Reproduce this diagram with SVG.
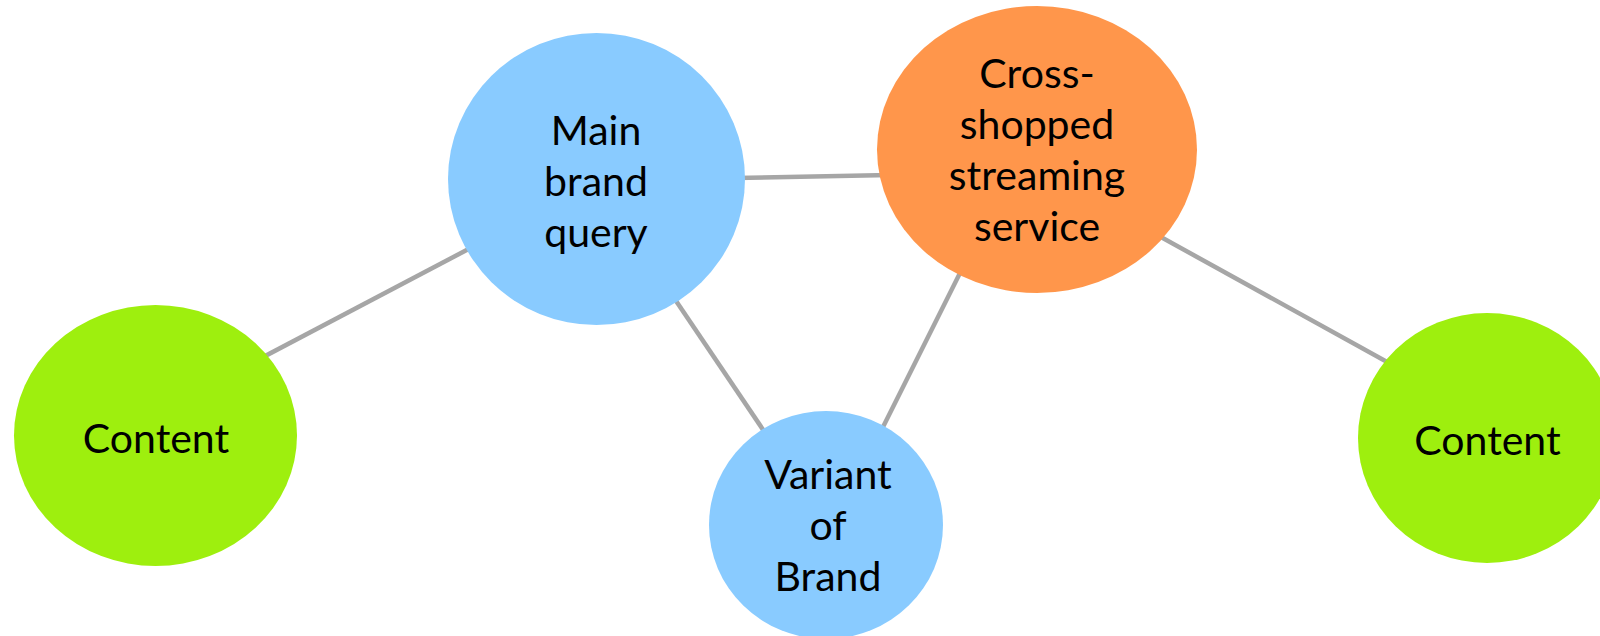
<svg xmlns="http://www.w3.org/2000/svg" width="1600" height="636" viewBox="0 0 1600 636">
<style>
.edge{stroke:#A6A6A6;stroke-width:4.5;fill:none}
.blue{fill:#89CBFF}
.orange{fill:#FF964B}
.green{fill:#9EEF0E}
.lbl{font-family:Lato,"Open Sans","Liberation Sans",sans-serif;font-size:41px;fill:#000;text-anchor:middle}
</style>
<rect width="1600" height="636" fill="#FFFFFF"/>
<g id="connectors">
<line class="edge" x1="250" y1="364" x2="480" y2="243"/>
<line class="edge" x1="735" y1="178" x2="890" y2="175"/>
<line class="edge" x1="670" y1="292" x2="770" y2="440"/>
<line class="edge" x1="966" y1="261" x2="878" y2="437"/>
<line class="edge" x1="1150" y1="231" x2="1398" y2="368"/>
</g>
<g id="node-content-left">
<ellipse class="green" cx="155.5" cy="435.5" rx="141.5" ry="130.5"/>
<text class="lbl" x="156" y="453">Content</text>
</g>
<g id="node-main-brand">
<ellipse class="blue" cx="596.5" cy="179" rx="148.5" ry="146"/>
<text class="lbl" x="596" y="145">Main</text>
<text class="lbl" x="596" y="196">brand</text>
<text class="lbl" x="596" y="247">query</text>
</g>
<g id="node-cross-shopped">
<ellipse class="orange" cx="1037" cy="149.5" rx="160" ry="143.5"/>
<text class="lbl" x="1037" y="88">Cross-</text>
<text class="lbl" x="1037" y="139">shopped</text>
<text class="lbl" x="1037" y="190">streaming</text>
<text class="lbl" x="1037" y="241">service</text>
</g>
<g id="node-variant">
<ellipse class="blue" cx="826" cy="525" rx="117" ry="114"/>
<text class="lbl" x="828" y="489">Variant</text>
<text class="lbl" x="828" y="540">of</text>
<text class="lbl" x="828" y="591">Brand</text>
</g>
<g id="node-content-right">
<ellipse class="green" cx="1487" cy="438" rx="129" ry="125"/>
<text class="lbl" x="1487.5" y="455">Content</text>
</g>
</svg>
